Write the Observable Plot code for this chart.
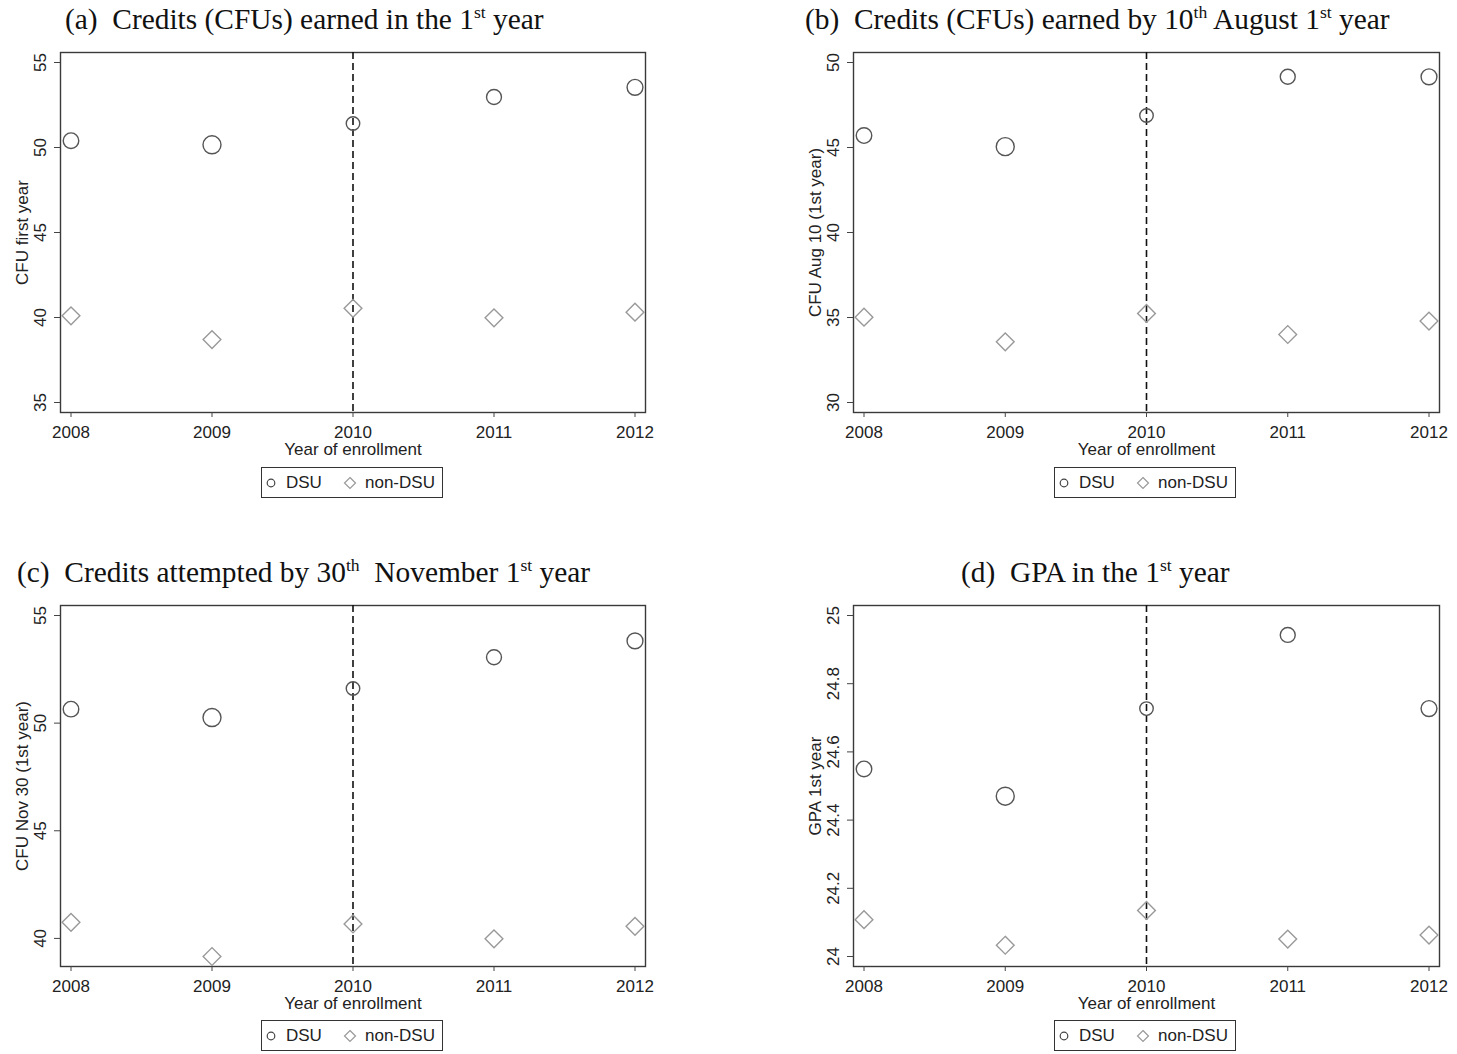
<!DOCTYPE html>
<html>
<head>
<meta charset="utf-8">
<script src="https://cdn.jsdelivr.net/npm/d3@7"></script>
<script src="https://cdn.jsdelivr.net/npm/@observablehq/plot@0.6"></script>
<style>
  body { margin: 0; background: #fff; }
  #root { position: relative; width: 1457px; height: 1054px; overflow: hidden; background: #fff; }
  .title { position: absolute; font-family: "Liberation Serif", "Times New Roman", serif; font-size: 29.4px; line-height: 29px; white-space: nowrap; color: #111; }
  .title sup { font-size: 0.6em; line-height: 0; vertical-align: 0.6em; }
  .panel { position: absolute; }
  .legend { position: absolute; width: 180px; height: 29px; border: 1px solid #333; background: #fff;
            font-family: "Liberation Sans", Arial, sans-serif; font-size: 17px; color: #222; }
  .legend span { position: absolute; top: 5px; line-height: 20px; }
  .legend svg { position: absolute; top: 0; left: 0; }
</style>
</head>
<body>
<div id="root"></div>
<script>
// ---- data ----
const years = [2008, 2009, 2010, 2011, 2012];
const reformYear = 2010;
const cohortWeight = [53, 71, 40, 49, 55];        // relative DSU group size (marker area)
const seriesNames = ["DSU", "non-DSU"];

const cfuFirstDSU = [50.40, 50.16, 51.41, 52.97, 53.54];
const cfuFirstNon = [40.10, 38.70, 40.54, 39.98, 40.31];
const cfuFirstTicks = [35, 40, 45, 50, 55];

const cfuAugDSU = [45.70, 45.05, 46.88, 49.16, 49.16];
const cfuAugNon = [35.02, 33.57, 35.24, 34.00, 34.79];
const cfuAugTicks = [30, 35, 40, 45, 50];

const cfuNovDSU = [50.65, 50.26, 51.61, 53.06, 53.82];
const cfuNovNon = [40.75, 39.16, 40.67, 39.98, 40.56];
const cfuNovTicks = [40, 45, 50, 55];

const gpaDSU = [24.55, 24.47, 24.727, 24.943, 24.727];
const gpaNon = [24.108, 24.033, 24.135, 24.051, 24.063];
const gpaTicks = [24, 24.2, 24.4, 24.6, 24.8, 25];

const xLabel = "Year of enrollment";

const panels = [
  {left: 0,   top: 40,  width: 660, height: 422, titleLeft: 65,  titleTop: 5,
   title: '(a)&nbsp; Credits (CFUs) earned in the 1<sup>st</sup> year',
   yLabel: "CFU first year", dsu: cfuFirstDSU, non: cfuFirstNon, ticks: cfuFirstTicks, fmt: d3.format("d")},
  {left: 793, top: 40,  width: 661, height: 422, titleLeft: 805, titleTop: 5,
   title: '(b)&nbsp; Credits (CFUs) earned by 10<sup>th</sup> August 1<sup>st</sup> year',
   yLabel: "CFU Aug 10 (1st year)", dsu: cfuAugDSU, non: cfuAugNon, ticks: cfuAugTicks, fmt: d3.format("d")},
  {left: 0,   top: 593, width: 660, height: 423, titleLeft: 17,  titleTop: 558,
   title: '(c)&nbsp; Credits attempted by 30<sup>th</sup>&nbsp; November 1<sup>st</sup> year',
   yLabel: "CFU Nov 30 (1st year)", dsu: cfuNovDSU, non: cfuNovNon, ticks: cfuNovTicks, fmt: d3.format("d")},
  {left: 793, top: 593, width: 661, height: 423, titleLeft: 961, titleTop: 558,
   title: '(d)&nbsp; GPA in the 1<sup>st</sup> year',
   yLabel: "GPA 1st year", dsu: gpaDSU, non: gpaNon, ticks: gpaTicks, fmt: d => String(d)}
];

const root = document.getElementById("root");
const sans = "'Liberation Sans', Arial, sans-serif";

for (const p of panels) {
  const data = years.map((year, i) => ({year, dsu: p.dsu[i], non: p.non[i], w: cohortWeight[i]}));
  const domain = d3.extent([...p.dsu, ...p.non, ...p.ticks]);
  const chart = Plot.plot({
    width: p.width, height: p.height,
    marginLeft: 60, marginRight: 15, marginTop: 12, marginBottom: p.height - 12 - (p.top === 40 ? 360 : 361),
    x: {domain: [2008, 2012], insetLeft: 10.5, insetRight: 10.5},
    y: {domain, inset: 10},
    r: {domain: [0, d3.max(cohortWeight)], range: [0, 9]},
    style: {fontFamily: sans, fontSize: "17px", color: "#222", background: "transparent", overflow: "visible"},
    marks: [
      Plot.frame({stroke: "#3a3a3a", strokeWidth: 1.4}),
      Plot.ruleX([reformYear], {stroke: "#111", strokeWidth: 1.6, strokeDasharray: "7,4"}),
      Plot.dot(data, {x: "year", y: "non", symbol: "diamond2", r: 8, stroke: "#999", strokeWidth: 1.4}),
      Plot.dot(data, {x: "year", y: "dsu", r: "w", stroke: "#555", strokeWidth: 1.4}),
      Plot.axisX({ticks: years, tickSize: 5, tickPadding: 8, tickFormat: d => String(d), label: null, stroke: "#444"}),
      Plot.axisY({ticks: p.ticks, tickSize: 6, tickRotate: -90, tickPadding: 9, tickFormat: p.fmt, label: null, stroke: "#444"}),
      Plot.text([p.yLabel], {frameAnchor: "left", textAnchor: "middle", lineAnchor: "middle", text: d => d, rotate: -90, dx: -38, fontSize: 17, fill: "#222"}),
      Plot.text([xLabel], {frameAnchor: "bottom", textAnchor: "middle", lineAnchor: "middle", text: d => d, dy: 37, fontSize: 17, fill: "#222"})
    ]
  });
  chart.classList.add("panel");
  chart.style.left = p.left + "px";
  chart.style.top = p.top + "px";
  root.appendChild(chart);

  const t = document.createElement("div");
  t.className = "title";
  t.style.left = p.titleLeft + "px";
  t.style.top = p.titleTop + "px";
  t.innerHTML = p.title;
  root.appendChild(t);

  // legend below the plot
  const lg = document.createElement("div");
  lg.className = "legend";
  lg.style.left = (p.left + 261) + "px";
  lg.style.top = (p.top + 427) + "px";
  const sym = d3.create("svg").attr("width", 180).attr("height", 29);
  sym.append("circle").attr("cx", 9).attr("cy", 15).attr("r", 3.8)
     .attr("fill", "none").attr("stroke", "#444").attr("stroke-width", 1.2);
  sym.append("path").attr("d", "M88,9.5L93.5,15L88,20.5L82.5,15Z")
     .attr("fill", "none").attr("stroke", "#999").attr("stroke-width", 1.2);
  lg.appendChild(sym.node());
  const s1 = document.createElement("span"); s1.textContent = seriesNames[0]; s1.style.left = "24px";
  const s2 = document.createElement("span"); s2.textContent = seriesNames[1]; s2.style.left = "103px";
  lg.appendChild(s1); lg.appendChild(s2);
  root.appendChild(lg);
}
</script>
</body>
</html>
